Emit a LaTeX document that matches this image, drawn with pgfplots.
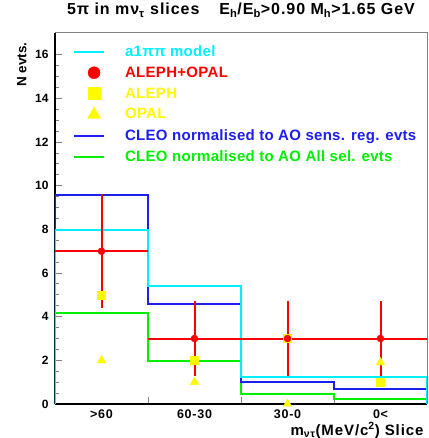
\documentclass[border=0pt]{standalone}
\usepackage{fontspec}
\setmainfont{Liberation Sans}
\newfontfamily\widefont[LetterSpace=6]{Liberation Sans}
\newfontfamily\legfont[LetterSpace=2]{Liberation Sans}
\usepackage{pgfplots}
\pgfplotsset{compat=1.18}
\definecolor{cleoblue}{RGB}{30,30,240}
\definecolor{cleogreen}{RGB}{0,240,0}
\definecolor{modelcyan}{RGB}{0,240,255}
\definecolor{aoyellow}{RGB}{255,250,0}

\pgfplotsset{
  lineleg/.style={legend image code/.code={\draw[##1] (0pt,0pt) -- (30pt,0pt);}},
  markleg/.style={legend image code/.code={\draw[##1] plot coordinates {(20pt,0pt)};}},
}

\begin{document}
\begin{tikzpicture}
\path[use as bounding box] (-55pt,-34pt) rectangle (373pt,404pt);
\begin{axis}[
    name=ax,
    scale only axis,
    width=372pt, height=371pt,
    xmin=0, xmax=4, ymin=0, ymax=17,
    axis lines=left,
    axis line style={-, black, line width=1.4pt},
    tick align=inside,
    xtick={1,2,3}, xticklabels={},
    extra x ticks={0.5,1.5,2.5,3.5},
    extra x tick labels={>60,60-30,30-0,0<},
    extra x tick style={major tick length=0pt},
    ytick={0,2,...,16}, minor y tick num=3,
    tick style={gray, line width=1pt},
    major tick length=7pt, minor tick length=4pt,
    /pgf/number format/assume math mode=true,
    xticklabel style={font=\widefont\fontsize{12.5}{14}\selectfont\bfseries, yshift=-2pt},
    yticklabel style={font=\fontsize{12}{14}\selectfont\bfseries, xshift=-3pt},
    title={5π in mν\textsubscript{τ} slices\hspace{20pt}E\textsubscript{h}/E\textsubscript{b}>0.90 M\textsubscript{h}>1.65 GeV},
    title style={at={(axis description cs:0.5,1)}, anchor=base, yshift=12pt, font=\widefont\fontsize{16}{18}\selectfont\bfseries},
    xlabel={m\textsubscript{ντ}(MeV/c\textsuperscript{2}) Slice},
    xlabel style={at={(axis description cs:1,0)}, anchor=base east, yshift=-31pt, font=\widefont\fontsize{15}{17}\selectfont\bfseries},
    ylabel={N evts.},
    ylabel style={at={(axis description cs:-0.089,0.984)}, anchor=east, font=\fontsize{13.5}{15}\selectfont\bfseries},
    legend style={at={(axis description cs:0.04,0.978)}, anchor=north west,
        draw=none, fill=none, font=\legfont\fontsize{15}{17}\selectfont\bfseries, row sep=5pt,
        /tikz/every odd column/.append style={column sep=18pt}},
    legend cell align=left,
]
% legend images
\addlegendimage{lineleg, modelcyan, line width=2pt}
\addlegendentry[text=modelcyan]{a1ππ model}
\addlegendimage{markleg, only marks, mark=*, red, mark size=6pt}
\addlegendentry[text=red]{ALEPH+OPAL}
\addlegendimage{markleg, only marks, mark=square*, aoyellow, mark size=6pt}
\addlegendentry[text=aoyellow]{ALEPH}
\addlegendimage{markleg, only marks, mark=triangle*, aoyellow, mark size=7.5pt}
\addlegendentry[text=aoyellow]{OPAL}
\addlegendimage{lineleg, cleoblue, line width=2pt}
\addlegendentry[text=cleoblue]{CLEO normalised to AO sens. reg. evts}
\addlegendimage{lineleg, cleogreen, line width=2pt}
\addlegendentry[text=cleogreen]{CLEO normalised to AO All sel. evts}

% CLEO, all selected events
\addplot[const plot, cleogreen, line width=2pt, forget plot] coordinates {
    (0,0) (0,4.18) (1,1.98) (2,0.44) (3,0.25) (4,0.25) (4,0)};
% CLEO, sensitive region
\addplot[const plot, cleoblue, line width=2pt, forget plot] coordinates {
    (0,0) (0,9.56) (1,4.58) (2,1.00) (3,0.67) (4,0.67) (4,0)};
% a1 pi pi model
\addplot[const plot, modelcyan, line width=2pt, forget plot] coordinates {
    (0,0) (0,7.95) (1,5.42) (2,1.26) (3,1.26) (4,1.26) (4,0)};

% ALEPH
\addplot[only marks, mark=square*, aoyellow, mark size=4pt, forget plot] coordinates {
    (0.5,5) (1.5,2) (2.5,3) (3.5,1)};
% OPAL
\addplot[only marks, mark=triangle*, aoyellow, mark size=5pt, forget plot] coordinates {
    (0.5,2) (1.5,1) (2.5,0) (3.5,1.9)};
% ALEPH+OPAL
\addplot[red, only marks, mark=*, mark size=3.5pt, forget plot,
    error bars/.cd, x dir=both, x explicit, y dir=both, y explicit,
    error mark=none, error bar style={draw=red, line width=2pt}]
    coordinates {
    (0.5,7) +- (0.5,2.62)
    (1.5,3) +- (0.5,1.72)
    (2.5,3) +- (0.5,1.72)
    (3.5,3) +- (0.5,1.72)};
\end{axis}
\draw[gray, line width=1pt] (ax.north west) -- (ax.north east) -- (ax.south east);
\end{tikzpicture}
\end{document}
